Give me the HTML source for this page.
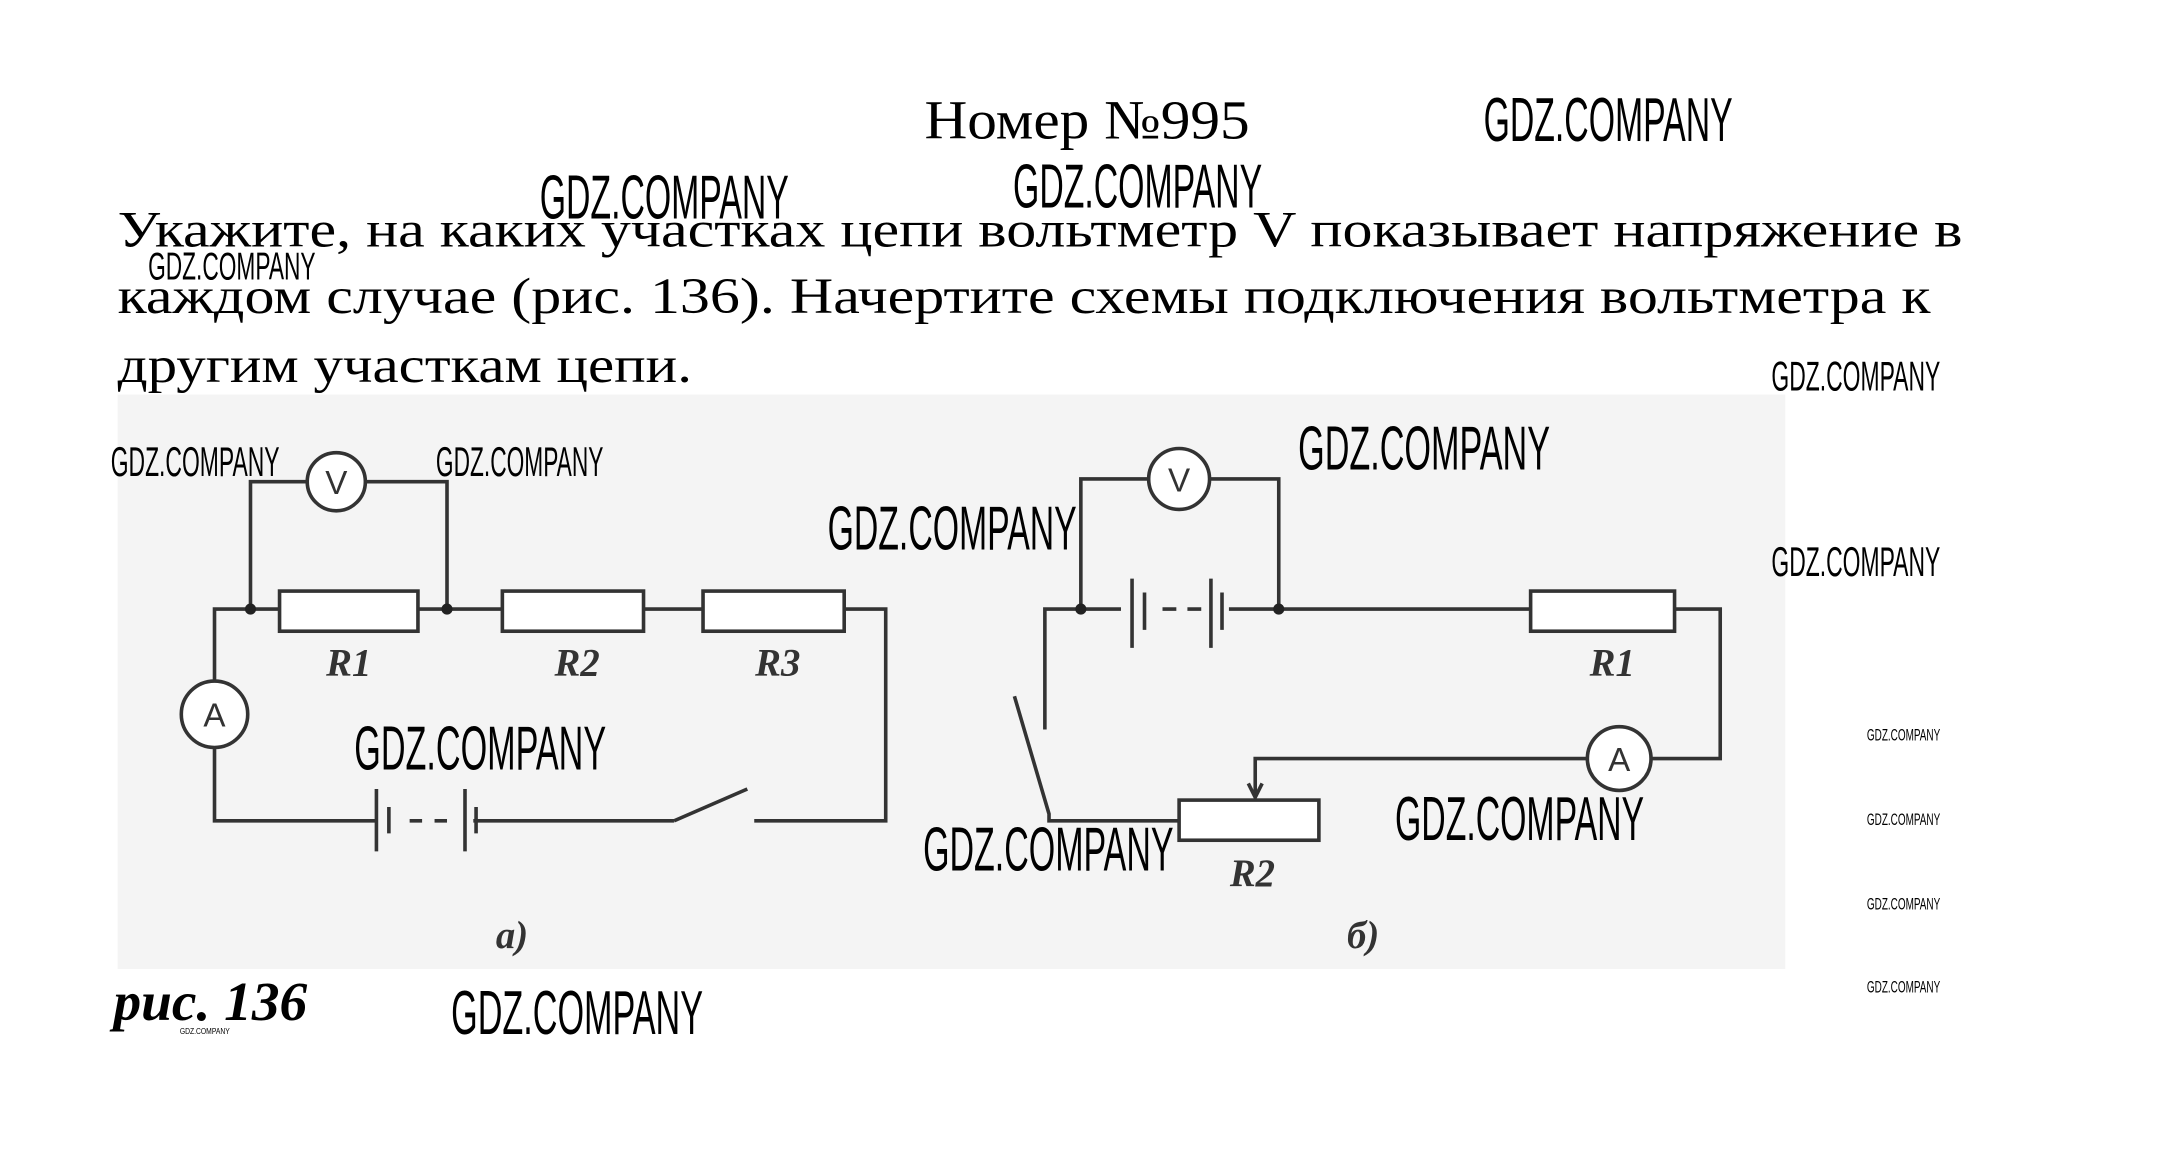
<!DOCTYPE html>
<html><head><meta charset="utf-8"><style>
html,body{margin:0;padding:0;background:#fff;}
svg{display:block;}
.s{font-family:"Liberation Serif",serif;fill:#000;}
.w{font-family:"Liberation Sans",sans-serif;fill:#000;}
.l{font-family:"Liberation Serif",serif;font-weight:bold;font-style:italic;fill:#333;}
</style></head><body>
<svg width="2170" height="1160" viewBox="0 0 1568 838" preserveAspectRatio="none" xmlns="http://www.w3.org/2000/svg">
<rect x="85" y="285" width="1205" height="415" fill="#f4f4f4"/>
<text class="s" x="668" y="100" font-size="40" textLength="235" lengthAdjust="spacingAndGlyphs">Номер №995</text>
<g class="s" font-size="37">
<text x="85" y="178" textLength="1333" lengthAdjust="spacingAndGlyphs">Укажите, на каких участках цепи вольтметр V показывает напряжение в</text>
<text x="85" y="226" textLength="1310" lengthAdjust="spacingAndGlyphs">каждом случае (рис. 136). Начертите схемы подключения вольтметра к</text>
<text x="85" y="276" textLength="415" lengthAdjust="spacingAndGlyphs">другим участкам цепи.</text>
</g>
<g class="w">
<text x="1072" y="102" font-size="45" textLength="180" lengthAdjust="spacingAndGlyphs">GDZ.COMPANY</text>
<text x="390" y="158" font-size="45" textLength="180" lengthAdjust="spacingAndGlyphs">GDZ.COMPANY</text>
<text x="732" y="150" font-size="45" textLength="180" lengthAdjust="spacingAndGlyphs">GDZ.COMPANY</text>
<text x="107" y="202" font-size="28" textLength="121" lengthAdjust="spacingAndGlyphs">GDZ.COMPANY</text>
<text x="1280" y="282" font-size="30" textLength="122" lengthAdjust="spacingAndGlyphs">GDZ.COMPANY</text>
<text x="80" y="344" font-size="30" textLength="122" lengthAdjust="spacingAndGlyphs">GDZ.COMPANY</text>
<text x="315" y="344" font-size="30" textLength="121" lengthAdjust="spacingAndGlyphs">GDZ.COMPANY</text>
<text x="598" y="397" font-size="45" textLength="180" lengthAdjust="spacingAndGlyphs">GDZ.COMPANY</text>
<text x="938" y="339" font-size="45" textLength="182" lengthAdjust="spacingAndGlyphs">GDZ.COMPANY</text>
<text x="1280" y="416" font-size="30" textLength="122" lengthAdjust="spacingAndGlyphs">GDZ.COMPANY</text>
<text x="256" y="556" font-size="45" textLength="182" lengthAdjust="spacingAndGlyphs">GDZ.COMPANY</text>
<text x="1008" y="607" font-size="45" textLength="180" lengthAdjust="spacingAndGlyphs">GDZ.COMPANY</text>
<text x="667" y="629" font-size="45" textLength="181" lengthAdjust="spacingAndGlyphs">GDZ.COMPANY</text>
<text x="326" y="747" font-size="45" textLength="182" lengthAdjust="spacingAndGlyphs">GDZ.COMPANY</text>
<text x="1349" y="535" font-size="12" textLength="53" lengthAdjust="spacingAndGlyphs">GDZ.COMPANY</text>
<text x="1349" y="596" font-size="12" textLength="53" lengthAdjust="spacingAndGlyphs">GDZ.COMPANY</text>
<text x="1349" y="657" font-size="12" textLength="53" lengthAdjust="spacingAndGlyphs">GDZ.COMPANY</text>
<text x="1349" y="717" font-size="12" textLength="53" lengthAdjust="spacingAndGlyphs">GDZ.COMPANY</text>
<text x="130" y="747" font-size="6" textLength="36" lengthAdjust="spacingAndGlyphs">GDZ.COMPANY</text>
</g>
<g stroke="#333" stroke-width="2.6" fill="none">
<path d="M155 497 V440 H202 M302 440 H363 M465 440 H508 M610 440 H640 V593 H545 M487 593 H342 M272 593 H155 V536"/>
<path d="M487 593 L540 570"/>
<circle cx="155" cy="516" r="24" fill="#fff"/>
<rect x="202" y="427" width="100" height="29" fill="#fff"/>
<rect x="363" y="427" width="102" height="29" fill="#fff"/>
<rect x="508" y="427" width="102" height="29" fill="#fff"/>
<path d="M181 440 V348 H222 M264 348 H323 V440"/>
<circle cx="243" cy="348" r="21" fill="#fff"/>
<path d="M272 570 V615 M281 583 V602 M296 593 H305 M314 593 H323 M336 570 V615 M344 583 V602"/>
<path d="M755 527 V440 H810 M888 440 H1106 M1210 440 H1243 V548 H1193 M1147 548 H907 V574"/>
<path d="M902 566 L907 576 L912 566"/>
<path d="M733 503 L758 588 V593 H852"/>
<circle cx="1170" cy="548" r="23" fill="#fff"/>
<rect x="1106" y="427" width="104" height="29" fill="#fff"/>
<rect x="852" y="578" width="101" height="29" fill="#fff"/>
<path d="M781 440 V346 H830 M874 346 H924 V440"/>
<circle cx="852" cy="346" r="22" fill="#fff"/>
<path d="M818 418 V468 M827 428 V455 M840 440 H850 M858 440 H868 M875 418 V468 M883 428 V455"/>
</g>
<g fill="#222">
<circle cx="181" cy="440" r="4"/><circle cx="323" cy="440" r="4"/>
<circle cx="781" cy="440" r="4"/><circle cx="924" cy="440" r="4"/>
</g>
<g font-family="Liberation Sans,sans-serif" font-size="24" fill="#333" text-anchor="middle">
<text x="243" y="357">V</text><text x="155" y="525">A</text>
<text x="852" y="355">V</text><text x="1170" y="557">A</text>
</g>
<g class="l" font-size="28" text-anchor="middle">
<text x="252" y="488">R1</text><text x="417" y="488">R2</text><text x="562" y="488">R3</text>
<text x="1165" y="488">R1</text><text x="905" y="640">R2</text>
<text x="370" y="685">а)</text>
<text x="985" y="685">б)</text>
</g>
<text class="l" x="82" y="737" font-size="40" style="fill:#000">рис. 136</text>
</svg>
</body></html>
